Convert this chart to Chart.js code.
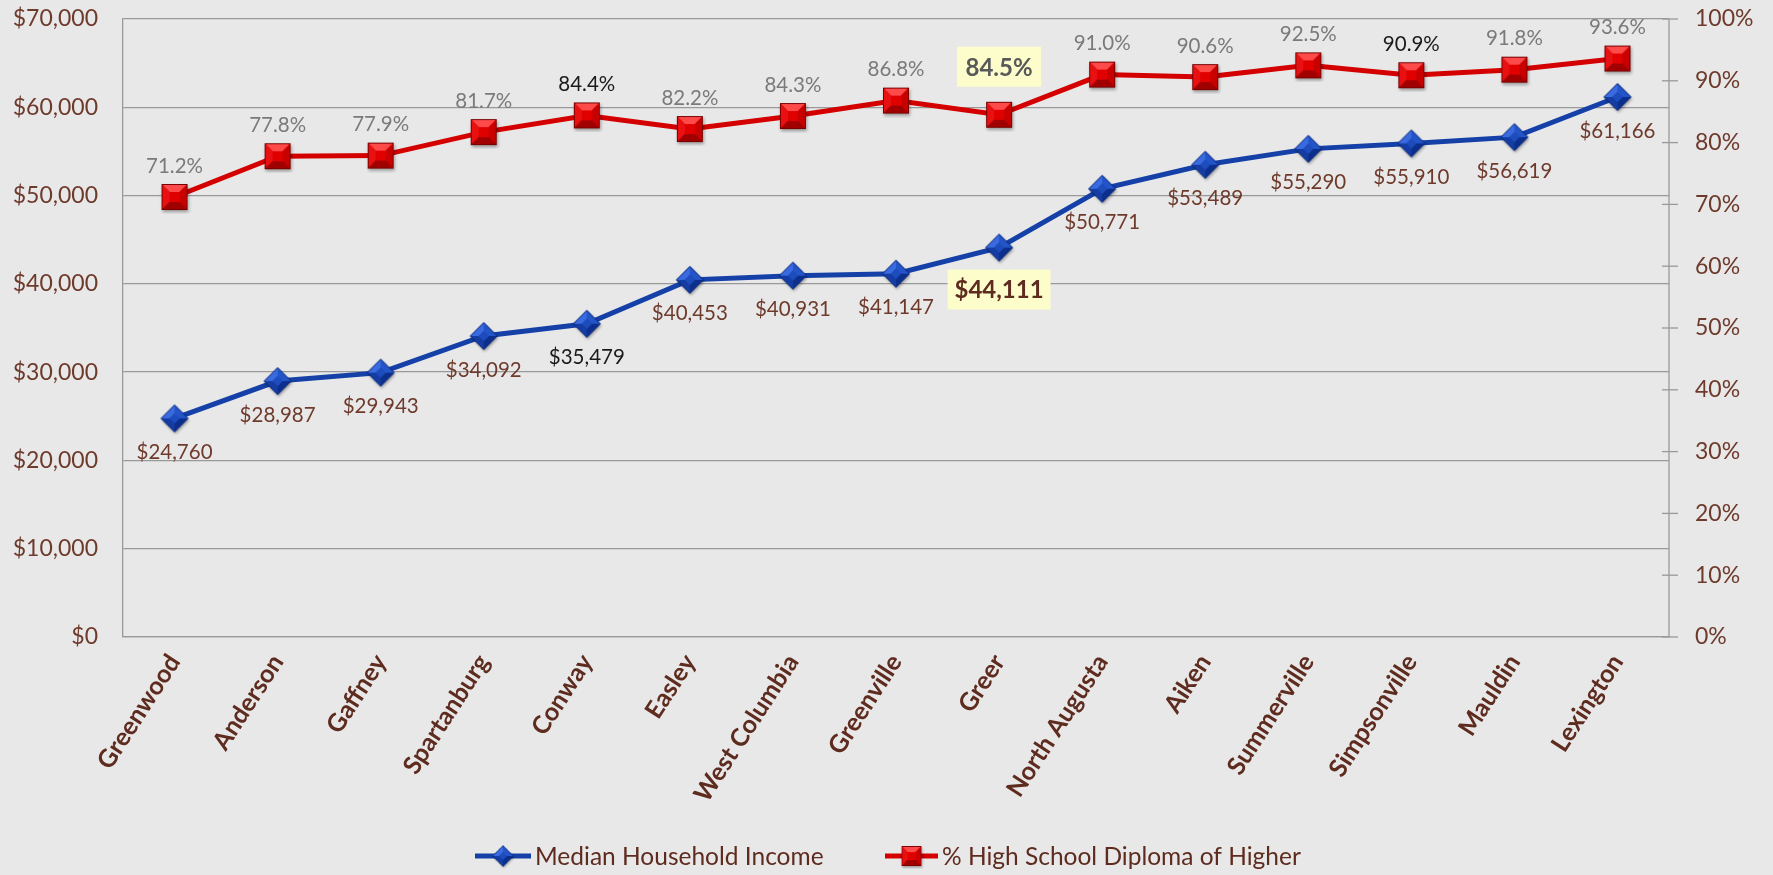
<!DOCTYPE html>
<html>
<head>
<meta charset="utf-8">
<script src="https://cdn.jsdelivr.net/npm/chart.js@4"></script>
<style>
  html, body { margin: 0; padding: 0; background: #e8e8e8; }
  #wrap { width: 1773px; height: 875px; position: relative; }
</style>
</head>
<body>
<div id="wrap"><canvas id="c"></canvas></div>
<script>
// ---- data ----
const cities = ["Greenwood","Anderson","Gaffney","Spartanburg","Conway","Easley","West Columbia","Greenville","Greer","North Augusta","Aiken","Summerville","Simpsonville","Mauldin","Lexington"];
const medianIncome = [24760, 28987, 29943, 34092, 35479, 40453, 40931, 41147, 44111, 50771, 53489, 55290, 55910, 56619, 61166];
const hsDiplomaPct = [71.2, 77.8, 77.9, 81.7, 84.4, 82.2, 84.3, 86.8, 84.5, 91.0, 90.6, 92.5, 90.9, 91.8, 93.6];
const incomeTicks = [0, 10000, 20000, 30000, 40000, 50000, 60000, 70000];
const pctTicks = [0, 10, 20, 30, 40, 50, 60, 70, 80, 90, 100];
const seriesNames = ["Median Household Income", "% High School Diploma of Higher"];

// ---- styles ----
const FONT = 'Lato, "Open Sans", sans-serif';
const BROWN = '#6e3a2c';
const DARKBROWN = '#5e2b1f';
const GRID = '#999999';

function makeSquare() {
  const s = 34, c = document.createElement('canvas');
  c.width = s; c.height = s;
  const g = c.getContext('2d');
  const a = 4, b = 30, i1 = 12, i2 = 22;
  g.save();
  g.shadowColor = 'rgba(0,0,0,0.35)'; g.shadowBlur = 3; g.shadowOffsetX = 1; g.shadowOffsetY = 2;
  g.fillStyle = '#b80000'; g.fillRect(a, a, b - a, b - a);
  g.restore();
  const face = (pts, col) => { g.beginPath(); g.moveTo(pts[0][0], pts[0][1]); for (let k = 1; k < pts.length; k++) g.lineTo(pts[k][0], pts[k][1]); g.closePath(); g.fillStyle = col; g.fill(); };
  face([[a,a],[b,a],[i2,i1],[i1,i1]], '#ff4a4a');
  face([[a,a],[i1,i1],[i1,i2],[a,b]], '#e81010');
  face([[b,a],[b,b],[i2,i2],[i2,i1]], '#c80000');
  face([[a,b],[i1,i2],[i2,i2],[b,b]], '#a00000');
  g.fillStyle = '#e00000'; g.fillRect(i1, i1, i2 - i1, i2 - i1);
  g.strokeStyle = '#7a0000'; g.lineWidth = 1; g.strokeRect(a + 0.5, a + 0.5, b - a - 1, b - a - 1);
  return c;
}
function makeDiamond() {
  const s = 34, c = document.createElement('canvas');
  c.width = s; c.height = s;
  const g = c.getContext('2d');
  const m = 17, r = 13.5, ir = 5;
  g.save();
  g.shadowColor = 'rgba(0,0,0,0.35)'; g.shadowBlur = 3; g.shadowOffsetX = 1; g.shadowOffsetY = 2;
  g.beginPath(); g.moveTo(m, m - r); g.lineTo(m + r, m); g.lineTo(m, m + r); g.lineTo(m - r, m); g.closePath();
  g.fillStyle = '#1a45b0'; g.fill();
  g.restore();
  const face = (pts, col) => { g.beginPath(); g.moveTo(pts[0][0], pts[0][1]); for (let k = 1; k < pts.length; k++) g.lineTo(pts[k][0], pts[k][1]); g.closePath(); g.fillStyle = col; g.fill(); };
  face([[m, m - r], [m - r, m], [m - ir, m], [m, m - ir]], '#3a6ae0');
  face([[m, m - r], [m + r, m], [m + ir, m], [m, m - ir]], '#2354c8');
  face([[m + r, m], [m, m + r], [m, m + ir], [m + ir, m]], '#0c2e8c');
  face([[m, m + r], [m - r, m], [m - ir, m], [m, m + ir]], '#143ca2');
  g.beginPath(); g.moveTo(m, m - ir); g.lineTo(m + ir, m); g.lineTo(m, m + ir); g.lineTo(m - ir, m); g.closePath();
  g.fillStyle = '#1d4cbc'; g.fill();
  g.beginPath(); g.moveTo(m, m - r); g.lineTo(m + r, m); g.lineTo(m, m + r); g.lineTo(m - r, m); g.closePath();
  g.strokeStyle = '#0a2a78'; g.lineWidth = 1; g.stroke();
  return c;
}
const squareImg = makeSquare();
const diamondImg = makeDiamond();

const labelCfg = [
  { format: v => '$' + v.toLocaleString('en-US'), font: '20.5px ' + FONT, color: BROWN, offset: 33,
    overrides: { 4: { color: '#1a1a1a' }, 8: { font: 'bold 24px ' + FONT, color: DARKBROWN, offset: 42, box: '#fdfccb', boxW: 103, boxH: 40 } } },
  { format: v => v.toFixed(1) + '%', font: '20.5px ' + FONT, color: '#7a7a7a', offset: -32,
    overrides: { 4: { color: '#1a1a1a' }, 12: { color: '#1a1a1a' }, 8: { font: 'bold 24px ' + FONT, color: '#595959', offset: -48, box: '#fdfccb', boxW: 84, boxH: 40 } } }
];

const bgPlugin = {
  id: 'bg',
  beforeDraw(chart) {
    const ctx = chart.ctx;
    ctx.save(); ctx.fillStyle = '#e8e8e8'; ctx.fillRect(0, 0, chart.width, chart.height); ctx.restore();
  }
};

const decoPlugin = {
  id: 'deco',
  beforeDatasetsDraw(chart) {
    const ctx = chart.ctx, y1 = chart.scales.y1, a = chart.chartArea;
    ctx.save();
    ctx.strokeStyle = GRID; ctx.lineWidth = 1.3;
    ctx.beginPath(); ctx.moveTo(a.right, a.top); ctx.lineTo(a.right, a.bottom); ctx.stroke();
    y1.ticks.forEach(t => {
      const py = y1.getPixelForValue(t.value);
      ctx.beginPath(); ctx.moveTo(a.right - 7, py); ctx.lineTo(a.right + 9, py); ctx.stroke();
    });
    ctx.restore();
  },
  afterDatasetsDraw(chart) {
    const ctx = chart.ctx;
    ctx.save();
    ctx.textAlign = 'center'; ctx.textBaseline = 'middle';
    chart.data.datasets.forEach((ds, di) => {
      const meta = chart.getDatasetMeta(di), cfg = labelCfg[di];
      meta.data.forEach((pt, i) => {
        const ov = cfg.overrides[i] || {};
        const text = cfg.format(ds.data[i]);
        const off = ov.offset !== undefined ? ov.offset : cfg.offset;
        const x = pt.x, y = pt.y + off;
        ctx.font = ov.font || cfg.font;
        if (ov.box) { ctx.fillStyle = ov.box; ctx.fillRect(x - ov.boxW / 2, y - ov.boxH / 2, ov.boxW, ov.boxH); }
        ctx.fillStyle = ov.color || cfg.color;
        ctx.fillText(text, x, y + 1);
      });
    });
    const ly = 856;
    const items = [
      { x0: 475, x1: 531, color: '#1440a8', img: diamondImg, tx: 535, text: seriesNames[0] },
      { x0: 885, x1: 938, color: '#d40000', img: squareImg, tx: 942, text: seriesNames[1] }
    ];
    items.forEach(it => {
      ctx.strokeStyle = it.color; ctx.lineWidth = 5;
      ctx.beginPath(); ctx.moveTo(it.x0, ly); ctx.lineTo(it.x1, ly); ctx.stroke();
      const cx = (it.x0 + it.x1) / 2;
      ctx.drawImage(it.img, cx - 13, ly - 13, 26, 26);
      ctx.font = '24.5px ' + FONT; ctx.fillStyle = DARKBROWN; ctx.textAlign = 'left';
      ctx.fillText(it.text, it.tx, ly + 1);
    });
    ctx.restore();
  }
};

new Chart(document.getElementById('c'), {
  type: 'line',
  data: {
    labels: cities,
    datasets: [
      { label: seriesNames[0], data: medianIncome, yAxisID: 'y', borderColor: '#1440a8', borderWidth: 5,
        pointStyle: diamondImg, pointRadius: 14, pointHoverRadius: 14, tension: 0, order: 2 },
      { label: seriesNames[1], data: hsDiplomaPct, yAxisID: 'y1', borderColor: '#d40000', borderWidth: 5,
        pointStyle: squareImg, pointRadius: 14, pointHoverRadius: 14, tension: 0, order: 1 }
    ]
  },
  options: {
    responsive: true, maintainAspectRatio: false, animation: false,
    layout: { padding: { top: 19, left: 0, right: 0, bottom: 0 } },
    plugins: { legend: { display: false }, tooltip: { enabled: false } },
    scales: {
      x: {
        offset: true,
        grid: { display: false, drawTicks: false },
        border: { display: true, color: GRID, width: 1.3 },
        ticks: { autoSkip: false, minRotation: 57, maxRotation: 57, padding: 12, color: DARKBROWN,
          font: { family: FONT, size: 25, weight: 'bold' } },
        afterFit(s) { s.height = 238; s.paddingLeft = 0; s.paddingRight = 0; }
      },
      y: {
        position: 'left', min: 0, max: 70000,
        afterBuildTicks(s) { s.ticks = incomeTicks.map(v => ({ value: v })); },
        grid: { color: GRID, lineWidth: 1.3, drawTicks: false },
        border: { display: true, color: GRID, width: 1.3 },
        ticks: { padding: 25, color: BROWN, font: { family: FONT, size: 23 },
          callback: v => '$' + Number(v).toLocaleString('en-US') },
        afterFit(s) { s.width = 123; s.paddingTop = 0; s.paddingBottom = 0; }
      },
      y1: {
        position: 'right', min: 0, max: 100,
        afterBuildTicks(s) { s.ticks = pctTicks.map(v => ({ value: v })); },
        grid: { drawOnChartArea: false, drawTicks: false },
        border: { display: false },
        ticks: { padding: 26, color: BROWN, font: { family: FONT, size: 23 }, callback: v => v + '%' },
        afterFit(s) { s.width = 104; s.paddingTop = 0; s.paddingBottom = 0; }
      }
    }
  },
  plugins: [bgPlugin, decoPlugin]
});
</script>
</body>
</html>
